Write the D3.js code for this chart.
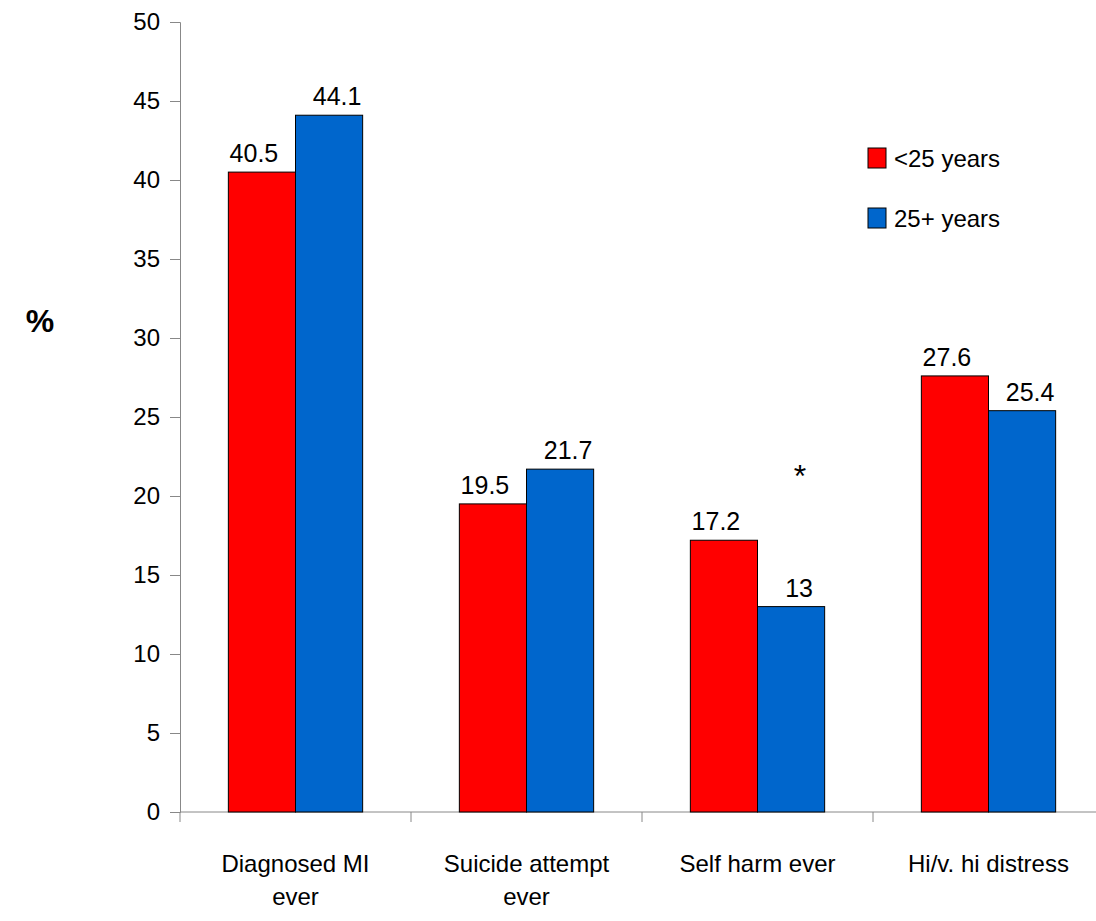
<!DOCTYPE html>
<html>
<head>
<meta charset="utf-8">
<script src="https://cdn.jsdelivr.net/npm/d3@7"></script>
<style>
  body { margin: 0; background: #fff; }
  text { font-family: "Liberation Sans", Arial, sans-serif; fill: #000; }
</style>
</head>
<body>
<svg width="1096" height="921"></svg>
<script>
// chart data
const categories = [["Diagnosed MI", "ever"], ["Suicide attempt", "ever"], ["Self harm ever"], ["Hi/v. hi distress"]]
const under25 = [40.5, 19.5, 17.2, 27.6]
const over25 = [44.1, 21.7, 13, 25.4]
const seriesNames = ["<25 years", "25+ years"]
const colors = ["#ff0000", "#0066cc"]
const yTicks = [0, 5, 10, 15, 20, 25, 30, 35, 40, 45, 50]

const svg = d3.select('svg')
const margin = {left: 180, right: -8, top: 22, bottom: 109}
const width = 1096 - margin.left - margin.right
const height = 921 - margin.top - margin.bottom

const g = svg.append('g').attr('transform', `translate(${margin.left},${margin.top})`)

const x = d3.scaleBand().domain(d3.range(categories.length)).range([0, width])
const inner = d3.scaleBand().domain([0, 1]).range([0, x.bandwidth()]).paddingOuter(0.72).paddingInner(0)
const y = d3.scaleLinear().domain([0, 50]).range([height, 0])

// y axis
const yAxis = g.append('g').call(d3.axisLeft(y).tickValues(yTicks).tickSize(10).tickPadding(10))
yAxis.attr('font-size', 24)
yAxis.select('.domain').attr('stroke', '#888')
yAxis.selectAll('line').attr('stroke', '#888')
yAxis.selectAll('text').style('font-size', '24px')

// x axis with boundary ticks
g.append('line').attr('x1', 0).attr('x2', width).attr('y1', height).attr('y2', height).attr('stroke', '#888')
g.selectAll('.xtick').data(d3.range(categories.length + 1)).enter().append('line')
  .attr('x1', d => d * x.step()).attr('x2', d => d * x.step())
  .attr('y1', height).attr('y2', height + 10).attr('stroke', '#888')

const groups = g.selectAll('.grp').data(categories).enter().append('g')
  .attr('transform', (d, i) => `translate(${x(i)},0)`)

const seriesData = [under25, over25]
seriesData.forEach((vals, s) => {
  groups.append('rect')
    .attr('x', inner(s)).attr('width', inner.bandwidth())
    .attr('y', (d, i) => y(vals[i])).attr('height', (d, i) => height - y(vals[i]))
    .attr('fill', colors[s]).attr('stroke', '#000').attr('stroke-width', 1)
  groups.append('text')
    .attr('x', inner(s) + inner.bandwidth() / 2 + (s === 0 ? -8 : 8))
    .attr('y', (d, i) => y(vals[i]) - 10)
    .attr('text-anchor', 'middle').style('font-size', '25px')
    .text((d, i) => vals[i])
})

// category labels
groups.each(function(d) {
  const t = d3.select(this).append('text').attr('text-anchor', 'middle').style('font-size', '24px')
  d.forEach((line, k) => t.append('tspan').attr('x', x.bandwidth() / 2).attr('y', height + 60 + k * 33).text(line))
})

// significance marker
g.append('text').attr('x', x(2) + inner(1) + inner.bandwidth() / 2 + 9).attr('y', y(20.6))
  .attr('text-anchor', 'middle').style('font-size', '32px').text('*')

// y label
svg.append('text').attr('x', 40).attr('y', 332).attr('text-anchor', 'middle')
  .style('font-size', '32px').style('font-weight', 'bold').text('%')

// legend
const legend = svg.append('g').attr('transform', 'translate(868,148)')
seriesNames.forEach((name, i) => {
  legend.append('rect').attr('x', 0).attr('y', i * 60).attr('width', 18).attr('height', 20)
    .attr('fill', colors[i]).attr('stroke', '#000')
  legend.append('text').attr('x', 26).attr('y', i * 60 + 19).style('font-size', '24px').text(name)
})
</script>
</body>
</html>
